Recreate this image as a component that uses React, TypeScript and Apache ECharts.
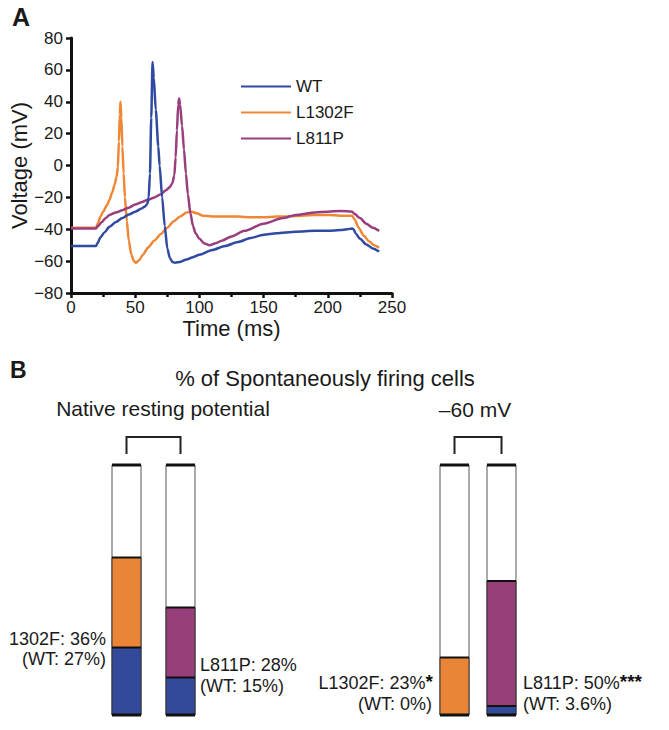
import React, { useEffect, useRef } from 'react';
import * as echarts from 'echarts';

const FONT = '"Liberation Sans", Arial, Helvetica, sans-serif';

// ---------- Panel A: action potential traces ----------
const seriesNames = ['WT', 'L1302F', 'L811P'];
const lineColors = ['#2F4AA0', '#EE8736', '#983E7C'];

const wtTime = [0, 10, 19.5, 20.5, 23, 26, 30, 35, 40, 45, 50, 55, 58, 59.5, 60.5, 61.5, 62.5, 63.5, 64.5, 66, 68, 69, 71, 73, 75, 77, 79, 81, 85, 90, 95, 100, 110, 120, 130, 140, 150, 160, 175, 190, 200, 210, 215, 219, 220, 222, 225, 230, 235, 240];
const wtVolt = [-50.5, -50.5, -50.5, -49, -45, -42, -38.5, -35.5, -33, -30.8, -29, -27, -25.5, -24, -20, -5, 30, 65, 55, 35, 12, 0, -20, -38, -52, -58, -60.5, -61, -60.5, -59, -57.5, -56, -53, -50.5, -48, -45.5, -43.5, -42.5, -41.5, -41, -41, -40.5, -40, -39.5, -40, -43, -46, -49.5, -52, -54];

const l1302fTime = [0, 10, 19.5, 21, 23, 25, 28, 30, 32, 34, 35.5, 36.5, 37.3, 38, 38.5, 39.2, 40, 41, 42, 43.5, 45, 47, 49, 50.5, 53, 56, 60, 65, 70, 75, 80, 85, 90, 94, 98, 103, 110, 120, 130, 140, 150, 160, 170, 180, 190, 200, 210, 219, 221, 224, 228, 232, 236, 240];
const l1302fVolt = [-39, -39, -39, -36, -32, -29, -25, -21.5, -17, -12, -7, -1, 15, 32, 40, 30, 12, -5, -20, -35, -47, -56, -60, -61, -59.5, -56, -51.5, -47, -43, -39, -35, -32, -29.5, -29, -30, -31.5, -32, -32, -32, -32.5, -32.5, -32, -32, -31.5, -31, -31, -31.5, -31.5, -34, -39, -44, -47.5, -50, -51.5];

const l811pTime = [0, 10, 19.5, 21, 24, 27, 30, 35, 40, 45, 50, 55, 60, 65, 70, 74, 77, 79, 80.5, 81.5, 82.5, 83.5, 84.2, 85, 86.5, 88, 89.5, 91, 93, 95, 97, 100, 104, 108, 112, 118, 125, 135, 150, 165, 175, 190, 200, 210, 219, 221, 225, 230, 235, 240];
const l811pVolt = [-39.5, -39.5, -39.5, -38, -35.5, -33, -31, -29.5, -28, -26.5, -24.5, -23, -21.5, -20, -18, -15.5, -13.5, -11, -6, 5, 22, 38, 42, 38, 25, 10, -5, -18, -30, -38, -42.5, -46, -49, -50, -49, -47, -44.5, -41, -36.5, -33, -31, -29.5, -29, -28.5, -29, -30.5, -33, -36.5, -39, -41];

// ---------- Panel B: % of spontaneously firing cells ----------
const mutants = ['L1302F', 'L811P'];
const mutColors = ['#EA8538', '#963F78'];
const wtBarColor = '#33499A';
const nativeWT = [27, 15];
const nativeMut = [36, 28];
const minus60WT = [0, 3.6];
const minus60Mut = [23, 50];

const pairs = (t: number[], v: number[]) => t.map((x, i) => [x, v[i]]);

export default function App() {
  const ref = useRef<HTMLDivElement>(null);

  useEffect(() => {
    document.body.style.margin = '0';
    if (!ref.current) return;
    const chart = echarts.init(ref.current, undefined, { renderer: 'svg' });

    const lineData = [pairs(wtTime, wtVolt), pairs(l1302fTime, l1302fVolt), pairs(l811pTime, l811pVolt)];

    const renderBar = (params: any, api: any) => {
      const i = api.value(0);
      const wt = api.value(1);
      const mut = api.value(2);
      const base = api.coord([i, 0]);
      const top = api.coord([i, 100]);
      const p1 = api.coord([i, wt]);
      const p2 = api.coord([i, wt + mut]);
      const w = 29;
      const cx = base[0];
      const x0 = cx - w / 2;
      const children: any[] = [
        { type: 'rect', shape: { x: x0, y: top[1], width: w, height: base[1] - top[1] }, style: { fill: '#fff', stroke: '#555', lineWidth: 1 } },
      ];
      if (wt > 0) {
        children.push({ type: 'rect', shape: { x: x0, y: p1[1], width: w, height: base[1] - p1[1] }, style: { fill: wtBarColor, stroke: '#333', lineWidth: 1 } });
      }
      children.push({ type: 'rect', shape: { x: x0, y: p2[1], width: w, height: p1[1] - p2[1] }, style: { fill: mutColors[i], stroke: '#333', lineWidth: 1 } });
      if (wt > 0) {
        children.push({ type: 'line', shape: { x1: x0, y1: p1[1], x2: x0 + w, y2: p1[1] }, style: { stroke: '#111', lineWidth: 2 } });
      }
      children.push({ type: 'line', shape: { x1: x0, y1: p2[1], x2: x0 + w, y2: p2[1] }, style: { stroke: '#111', lineWidth: 2 } });
      children.push({ type: 'line', shape: { x1: x0, y1: top[1], x2: x0 + w, y2: top[1] }, style: { stroke: '#111', lineWidth: 3 } });
      children.push({ type: 'line', shape: { x1: x0, y1: base[1], x2: x0 + w, y2: base[1] }, style: { stroke: '#111', lineWidth: 3 } });
      if (i === 0) {
        const other = api.coord([1, 100]);
        children.push({
          type: 'polyline',
          shape: { points: [[cx, top[1] - 11], [cx, top[1] - 28], [other[0], top[1] - 28], [other[0], top[1] - 11]] },
          style: { stroke: '#222', lineWidth: 2, fill: 'none' },
        });
      }
      return { type: 'group', children };
    };

    const txt = (text: string, x: number, y: number, size: number, align: string = 'left', weight: string = 'normal') => ({
      type: 'text',
      x,
      y,
      style: { text, fontSize: size, fontFamily: FONT, fontWeight: weight, fill: '#1a1a1a', textAlign: align, textVerticalAlign: 'middle' },
    });
    const starTxt = (main: string, stars: string, x: number, y: number, align: string) => ({
      type: 'text',
      x,
      y,
      style: {
        text: `{a|${main}}{s|${stars}}`,
        textAlign: align,
        textVerticalAlign: 'middle',
        rich: {
          a: { fontSize: 18, fontFamily: FONT, fill: '#1a1a1a' },
          s: { fontSize: 19, fontFamily: FONT, fontWeight: 'bold', fill: '#111', padding: [0, 0, 4, 0] },
        },
      },
    });

    chart.setOption({
      animation: false,
      textStyle: { fontFamily: FONT },
      legend: {
        data: seriesNames,
        orient: 'vertical',
        left: 236,
        top: 73,
        icon: 'rect',
        itemWidth: 50,
        itemHeight: 2,
        itemGap: 9,
        textStyle: { fontSize: 17, color: '#1a1a1a', fontFamily: FONT },
      },
      grid: [
        { left: 71, top: 38, width: 321, height: 255 },
        { left: 99.5, top: 465, width: 108, height: 250 },
        { left: 431, top: 465, width: 94, height: 250 },
      ],
      xAxis: [
        {
          type: 'value', gridIndex: 0, min: 0, max: 250, interval: 50,
          name: 'Time (ms)', nameLocation: 'middle', nameGap: 24,
          nameTextStyle: { fontSize: 22, color: '#1a1a1a', fontFamily: FONT },
          axisLine: { onZero: false, lineStyle: { color: '#111', width: 3 } },
          axisTick: { show: true, length: 5, lineStyle: { color: '#111', width: 2.5 } },
          minorTick: { show: true, splitNumber: 2, length: 4, lineStyle: { color: '#111', width: 2.5 } },
          splitLine: { show: false },
          axisLabel: { fontSize: 17, color: '#1a1a1a', margin: 6, fontFamily: FONT },
        },
        { type: 'category', gridIndex: 1, data: mutants, show: false },
        { type: 'category', gridIndex: 2, data: mutants, show: false },
      ],
      yAxis: [
        {
          type: 'value', gridIndex: 0, min: -80, max: 80, interval: 20,
          name: 'Voltage (mV)', nameLocation: 'middle', nameGap: 37,
          nameTextStyle: { fontSize: 22, color: '#1a1a1a', fontFamily: FONT },
          axisLine: { show: true, onZero: false, lineStyle: { color: '#111', width: 3 } },
          axisTick: { show: true, length: 5, lineStyle: { color: '#111', width: 2.5 } },
          splitLine: { show: false },
          axisLabel: { fontSize: 17, color: '#1a1a1a', margin: 8, fontFamily: FONT, formatter: (v: number) => (v < 0 ? '\u2212' + Math.abs(v) : String(v)) },
        },
        { type: 'value', gridIndex: 1, min: 0, max: 100, show: false },
        { type: 'value', gridIndex: 2, min: 0, max: 100, show: false },
      ],
      series: [
        ...seriesNames.map((name, k) => ({
          name,
          type: 'line',
          xAxisIndex: 0,
          yAxisIndex: 0,
          data: lineData[k],
          showSymbol: false,
          smooth: 0.25,
          smoothMonotone: 'x',
          lineStyle: { color: lineColors[k], width: 2.5 },
          itemStyle: { color: lineColors[k] },
          z: k === 0 ? 4 : 3,
        })),
        {
          type: 'custom',
          xAxisIndex: 1,
          yAxisIndex: 1,
          clip: false,
          renderItem: renderBar,
          data: mutants.map((_, i) => [i, nativeWT[i], nativeMut[i]]),
        },
        {
          type: 'custom',
          xAxisIndex: 2,
          yAxisIndex: 2,
          clip: false,
          renderItem: renderBar,
          data: mutants.map((_, i) => [i, minus60WT[i], minus60Mut[i]]),
        },
      ],
      graphic: [
        txt('A', 12, 17, 25, 'left', 'bold'),
        txt('B', 10, 370, 23, 'left', 'bold'),
        txt('% of Spontaneously firing cells', 325, 378, 22, 'center'),
        txt('Native resting potential', 163, 408, 21, 'center'),
        txt('\u201360 mV', 475, 409, 21, 'center'),
        txt('1302F: 36%', 106, 639, 18, 'right'),
        txt('(WT: 27%)', 106, 659, 18, 'right'),
        txt('L811P: 28%', 200, 665, 18, 'left'),
        txt('(WT: 15%)', 200, 686, 18, 'left'),
        starTxt('L1302F: 23%', '*', 433, 683, 'right'),
        txt('(WT: 0%)', 432, 704, 18, 'right'),
        starTxt('L811P: 50%', '***', 523, 683, 'left'),
        txt('(WT: 3.6%)', 523, 704, 18, 'left'),
      ],
    });

    return () => chart.dispose();
  }, []);

  return <div ref={ref} style={{ width: 669, height: 730 }} />;
}
